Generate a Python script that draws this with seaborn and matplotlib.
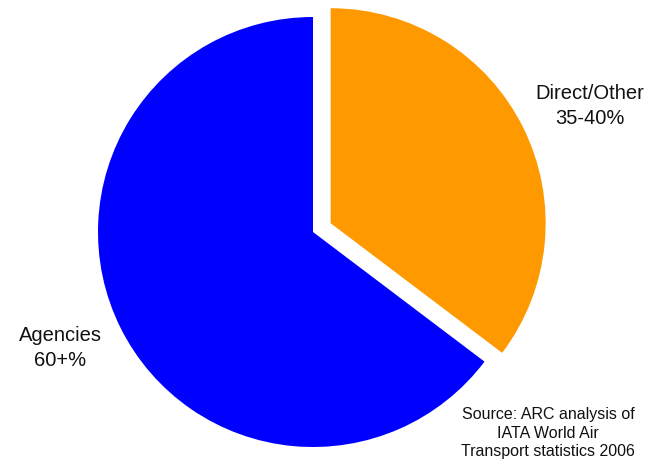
import matplotlib
matplotlib.use("Agg")
import matplotlib.pyplot as plt
import seaborn as sns

categories = ["Direct/Other", "Agencies"]
shares = [35.3, 64.7]
label_texts = ["Direct/Other\n35-40%", "Agencies\n60+%"]
colors = ["#FF9900", "#0000FF"]
source_text = "Source: ARC analysis of\nIATA World Air\nTransport statistics 2006"

sns.set_theme(style="white")
plt.rcParams['font.family'] = ['Liberation Sans', 'DejaVu Sans']

W, H = 654, 463
fig = plt.figure(figsize=(W / 100, H / 100), dpi=100)
ax = fig.add_axes([0, 0, 1, 1])
ax.set_xlim(0, W)
ax.set_ylim(0, H)
ax.set_aspect("equal")
ax.axis("off")

ax.pie(shares, colors=colors, startangle=90, counterclock=False,
       explode=[19.7, 0], center=(313, H - 232), radius=215,
       wedgeprops=dict(linewidth=0))
ax.set_xlim(0, W)
ax.set_ylim(0, H)

ax.text(590, H - 106, label_texts[0], ha="center", va="center",
        fontsize=14.5, color="#111111", linespacing=1.4)
ax.text(60, H - 348, label_texts[1], ha="center", va="center",
        fontsize=14.5, color="#111111", linespacing=1.4)
ax.text(548, H - 433, source_text, ha="center", va="center",
        fontsize=11.5, color="#111111", linespacing=1.3)

fig.savefig("out.png", dpi=100)
